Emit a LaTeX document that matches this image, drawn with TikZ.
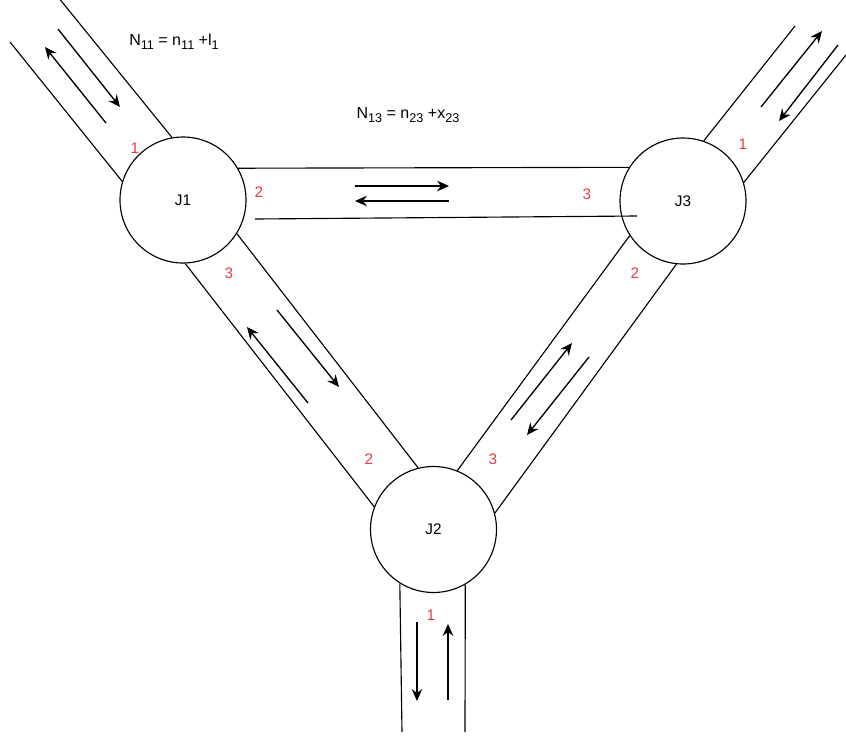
\documentclass[tikz,border=0pt]{standalone}
\usepackage{fontspec}
\setmainfont{Liberation Sans}
\usetikzlibrary{arrows.meta}
\definecolor{lblred}{RGB}{226,62,72}
\newcommand{\sbs}[1]{\raisebox{-0.5ex}{\fontsize{9.5}{11}\selectfont #1}}
\begin{document}
\begin{tikzpicture}[x=0.75pt,y=-0.75pt,
  junction/.style={circle,draw,line width=0.85pt,minimum size=94.5pt,inner sep=0pt,font=\fontsize{11.5}{13}\selectfont},
  wall/.style={line width=0.85pt},
  flow/.style={line width=1pt,-{Stealth[length=9pt,width=8pt,inset=3pt]}},
  portlbl/.style={text=lblred,font=\fontsize{11.5}{13}\selectfont,inner sep=0pt},
  eqlbl/.style={font=\fontsize{12}{14}\selectfont,inner sep=0pt}]
\useasboundingbox (0,0) rectangle (846,736);

% junctions
\node[junction] (J1) at (183,200) {J1};
\node[junction] (J3) at (683,201) {J3};
\node[junction] (J2) at (433.5,529.5) {J2};

% free ends of channel walls
\coordinate (tlA) at (58,-3);
\coordinate (tlB) at (10,42);
\coordinate (trA) at (795,26);
\coordinate (trB) at (850,50);
\coordinate (bL) at (402,732);
\coordinate (bR) at (465,732);
\coordinate (hlA) at (255,219);
\coordinate (hlB) at (637,216);

% channel walls
\draw[wall] (J1.100) -- (tlA);
\draw[wall] (J1.163.6) -- (tlB);
\draw[wall] (J1.30.5) -- (J3.148.4);
\draw[wall] (hlA) -- (hlB);
\draw[wall] (J1.-32.5) -- (J2.104);
\draw[wall] (J1.-88) -- (J2.159.6);
\draw[wall] (J3.213.4) -- (J2.68.4);
\draw[wall] (J3.264.6) -- (J2.15.9);
\draw[wall] (J3.71.8) -- (trA);
\draw[wall] (J3.17.6) -- (trB);
\draw[wall] (J2.238) -- (bL);
\draw[wall] (J2.300) -- (bR);

% flow arrows
\coordinate (a1s) at (106,123); \coordinate (a1e) at (45,47);
\coordinate (a2s) at (58,29);   \coordinate (a2e) at (120,107);
\coordinate (a3s) at (355,186); \coordinate (a3e) at (449,186);
\coordinate (a4s) at (449,201); \coordinate (a4e) at (355,201);
\coordinate (a5s) at (308,403); \coordinate (a5e) at (247,327);
\coordinate (a6s) at (277,310); \coordinate (a6e) at (339,387);
\coordinate (a7s) at (511,420); \coordinate (a7e) at (572,343);
\coordinate (a8s) at (589,357); \coordinate (a8e) at (527,435);
\coordinate (a9s) at (761,107); \coordinate (a9e) at (822,31);
\coordinate (a10s) at (838,45); \coordinate (a10e) at (779,121);
\coordinate (a11s) at (417,622); \coordinate (a11e) at (417,701);
\coordinate (a12s) at (448,700); \coordinate (a12e) at (448,624);
\foreach \s/\e in {a1s/a1e,a2s/a2e,a3s/a3e,a4s/a4e,a5s/a5e,a6s/a6e,a7s/a7e,a8s/a8e,a9s/a9e,a10s/a10e,a11s/a11e,a12s/a12e}
  \draw[flow] (\s) -- (\e);

% port numbers
\node[portlbl] (p11) at (135,148) {1};
\node[portlbl] (p12) at (259,192) {2};
\node[portlbl] (p13) at (229,273) {3};
\node[portlbl] (p22) at (369,459) {2};
\node[portlbl] (p23) at (493,459) {3};
\node[portlbl] (p21) at (431,615) {1};
\node[portlbl] (p33) at (587,194) {3};
\node[portlbl] (p32) at (635,273) {2};
\node[portlbl] (p31) at (743,144) {1};

% equations
\node[eqlbl] (eq1) at (174,42) {N\sbs{11} = n\sbs{11} +l\sbs{1}};
\node[eqlbl] (eq2) at (408,115) {N\sbs{13} = n\sbs{23} +x\sbs{23}};
\end{tikzpicture}
\end{document}
